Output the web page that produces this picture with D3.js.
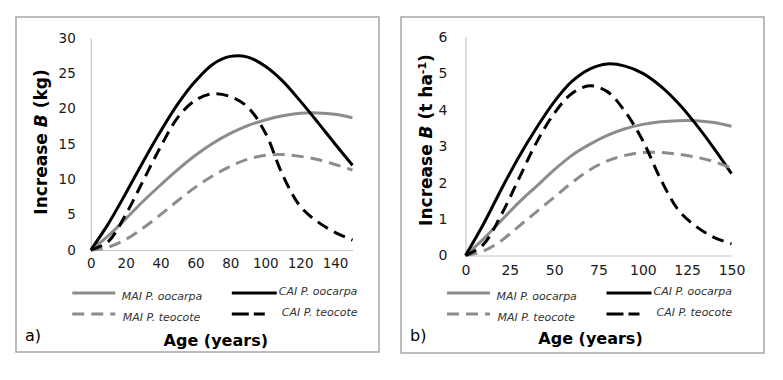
<!DOCTYPE html>
<html>
<head>
<meta charset="utf-8">
<script src="https://cdn.jsdelivr.net/npm/d3@7"></script>
<style>
  body { margin: 0; background: #fff; }
  svg { display: block; font-family: "DejaVu Sans", Verdana, sans-serif; }
</style>
</head>
<body>
<svg id="chart" width="783" height="380"></svg>
<script>
// ---------- DATA ----------
const ages = [0, 10, 20, 30, 40, 50, 60, 70, 80, 90, 100, 110, 120, 130, 140, 150];

// Panel a) Increase B (kg)
const maiOocarpaA = [0, 2.0, 4.4, 6.9, 9.2, 11.4, 13.4, 15.1, 16.5, 17.6, 18.4, 19.0, 19.35, 19.4, 19.2, 18.7];
const caiOocarpaA = [0, 3.7, 8.0, 12.5, 16.8, 20.7, 23.9, 26.3, 27.4, 27.3, 26.0, 23.9, 21.1, 18.1, 15.0, 12.0];
const maiTeocoteA = [0, 0.4, 1.5, 3.1, 5.0, 7.0, 8.9, 10.5, 11.85, 12.85, 13.4, 13.5, 13.25, 12.8, 12.1, 11.3];
const caiTeocoteA = [0, 1.2, 5.0, 9.8, 14.6, 18.8, 21.2, 22.1, 21.7, 20.2, 16.6, 10.6, 6.2, 4.0, 2.5, 1.4];

// Panel b) Increase B (t ha-1)
const maiOocarpaB = [0, 0.45, 0.95, 1.45, 1.9, 2.35, 2.75, 3.05, 3.3, 3.48, 3.6, 3.67, 3.7, 3.7, 3.65, 3.55];
const caiOocarpaB = [0, 0.85, 1.8, 2.7, 3.5, 4.22, 4.78, 5.12, 5.26, 5.2, 5.0, 4.65, 4.18, 3.6, 2.95, 2.25];
const maiTeocoteB = [0, 0.12, 0.4, 0.8, 1.2, 1.6, 2.0, 2.35, 2.6, 2.75, 2.83, 2.83, 2.78, 2.7, 2.58, 2.4];
const caiTeocoteB = [0, 0.3, 1.1, 2.1, 3.1, 3.9, 4.45, 4.66, 4.5, 3.95, 3.15, 2.1, 1.25, 0.8, 0.5, 0.32];

const seriesNames = ["MAI P. oocarpa", "CAI P. oocarpa", "MAI P. teocote", "CAI P. teocote"];

const xTicksA = [0, 20, 40, 60, 80, 100, 120, 140];
const yTicksA = [0, 5, 10, 15, 20, 25, 30];
const xTicksB = [0, 25, 50, 75, 100, 125, 150];
const yTicksB = [0, 1, 2, 3, 4, 5, 6];

// ---------- STYLES ----------
const styles = [
  { color: "#8c8c8c", dash: null, legDash: null },
  { color: "#000000", dash: null, legDash: null },
  { color: "#8c8c8c", dash: "12,7", legDash: "12,7" },
  { color: "#000000", dash: "12,7", legDash: "17,5" }
];

const svg = d3.select("#chart");

function drawPanel(cfg) {
  const g = svg.append("g");
  // frame
  g.append("rect")
    .attr("x", cfg.frame[0]).attr("y", cfg.frame[1])
    .attr("width", cfg.frame[2] - cfg.frame[0]).attr("height", cfg.frame[3] - cfg.frame[1])
    .attr("fill", "#fff").attr("stroke", "#a6a6a6").attr("stroke-width", 1.5);

  const x = d3.scaleLinear().domain([0, 150]).range([cfg.x0, cfg.x1]);
  const y = d3.scaleLinear().domain([0, cfg.yMax]).range([cfg.y0, cfg.y1]);

  // axes
  const yAxis = d3.axisLeft(y).tickValues(cfg.yTicks).tickSize(0).tickPadding(cfg.yPad).tickFormat(d3.format("d"));
  const xAxis = d3.axisBottom(x).tickValues(cfg.xTicks).tickSize(0).tickPadding(cfg.xPad).tickFormat(d3.format("d"));
  const ya = g.append("g").attr("transform", `translate(${cfg.x0},0)`).call(yAxis);
  const xa = g.append("g").attr("transform", `translate(0,${cfg.y0})`).call(xAxis);
  [ya, xa].forEach(a => {
    a.select(".domain").attr("stroke", "#c4c4c4").attr("stroke-width", 1.2);
    a.selectAll("text").attr("fill", "#1a1a1a").style("font-size", cfg.tickFont + "px")
      .style("font-family", '"DejaVu Sans", Verdana, sans-serif');
  });

  // lines
  const line = d3.line().x((d, i) => x(ages[i])).y(d => y(d)).curve(d3.curveCatmullRom.alpha(0.5));
  cfg.series.forEach((s, i) => {
    g.append("path").datum(s)
      .attr("d", line)
      .attr("fill", "none")
      .attr("stroke", styles[i].color)
      .attr("stroke-width", 3)
      .attr("stroke-dasharray", styles[i].dash);
  });

  // legend
  const legItems = [
    { i: 0, lx: cfg.x0 - 18.5, lw: 43, tx: cfg.x0 + 31, ly: 293 },
    { i: 1, lx: cfg.x0 + 141, lw: 45, tx: cfg.x0 + 188, ly: 293 },
    { i: 2, lx: cfg.x0 - 18.5, lw: 43, tx: cfg.x0 + 32, ly: 314 },
    { i: 3, lx: cfg.x0 + 141, lw: 33, tx: cfg.x0 + 191, ly: 314 }
  ];
  legItems.forEach(it => {
    g.append("line")
      .attr("x1", it.lx).attr("x2", it.lx + it.lw)
      .attr("y1", it.ly).attr("y2", it.ly)
      .attr("stroke", styles[it.i].color).attr("stroke-width", 3)
      .attr("stroke-dasharray", styles[it.i].legDash);
    g.append("text")
      .attr("x", it.tx).attr("y", it.ly + (it.i % 2 === 1 ? -2 : 3)).attr("dy", "0.35em")
      .attr("font-style", "italic").attr("font-size", 11).attr("fill", "#333")
      .text(seriesNames[it.i]);
  });

  // x title
  g.append("text")
    .attr("x", cfg.x0 + 125).attr("y", cfg.xTitleY)
    .attr("text-anchor", "middle").attr("font-weight", "bold").attr("font-size", 16)
    .attr("fill", "#000").text("Age (years)");

  // y title
  const yt = g.append("text")
    .attr("transform", `translate(${cfg.frame[0] + 25},${cfg.yTitleY}) rotate(-90)`)
    .attr("text-anchor", "middle").attr("dy", "0.35em")
    .attr("font-weight", "bold").attr("font-size", 17).attr("fill", "#000");
  yt.append("tspan").text("Increase ");
  yt.append("tspan").attr("font-style", "italic").text("B");
  cfg.unit(yt);

  // panel label
  g.append("text")
    .attr("x", cfg.frame[0] + 9).attr("y", 341)
    .attr("font-size", 16).attr("fill", "#000").text(cfg.label);
}

drawPanel({
  frame: [16, 17, 379, 352],
  x0: 90.8, x1: 352.5, y0: 250, y1: 38, yMax: 30,
  xTicks: xTicksA, yTicks: yTicksA, tickFont: 13.5, yPad: 15, xPad: 8,
  series: [maiOocarpaA, caiOocarpaA, maiTeocoteA, caiTeocoteA],
  xTitleY: 346, yTitleY: 142, label: "a)",
  unit: t => t.append("tspan").text(" (kg)")
});

drawPanel({
  frame: [401, 17, 764, 353],
  x0: 465.5, x1: 731.5, y0: 255.5, y1: 37, yMax: 6,
  xTicks: xTicksB, yTicks: yTicksB, tickFont: 14, yPad: 18, xPad: 10,
  series: [maiOocarpaB, caiOocarpaB, maiTeocoteB, caiTeocoteB],
  xTitleY: 344, yTitleY: 140, label: "b)",
  unit: t => {
    t.append("tspan").text(" (t ha");
    t.append("tspan").attr("font-size", 11).attr("dy", "-0.55em").text("-1");
    t.append("tspan").attr("dy", "0.35em").text(")");
  }
});
</script>
</body>
</html>
